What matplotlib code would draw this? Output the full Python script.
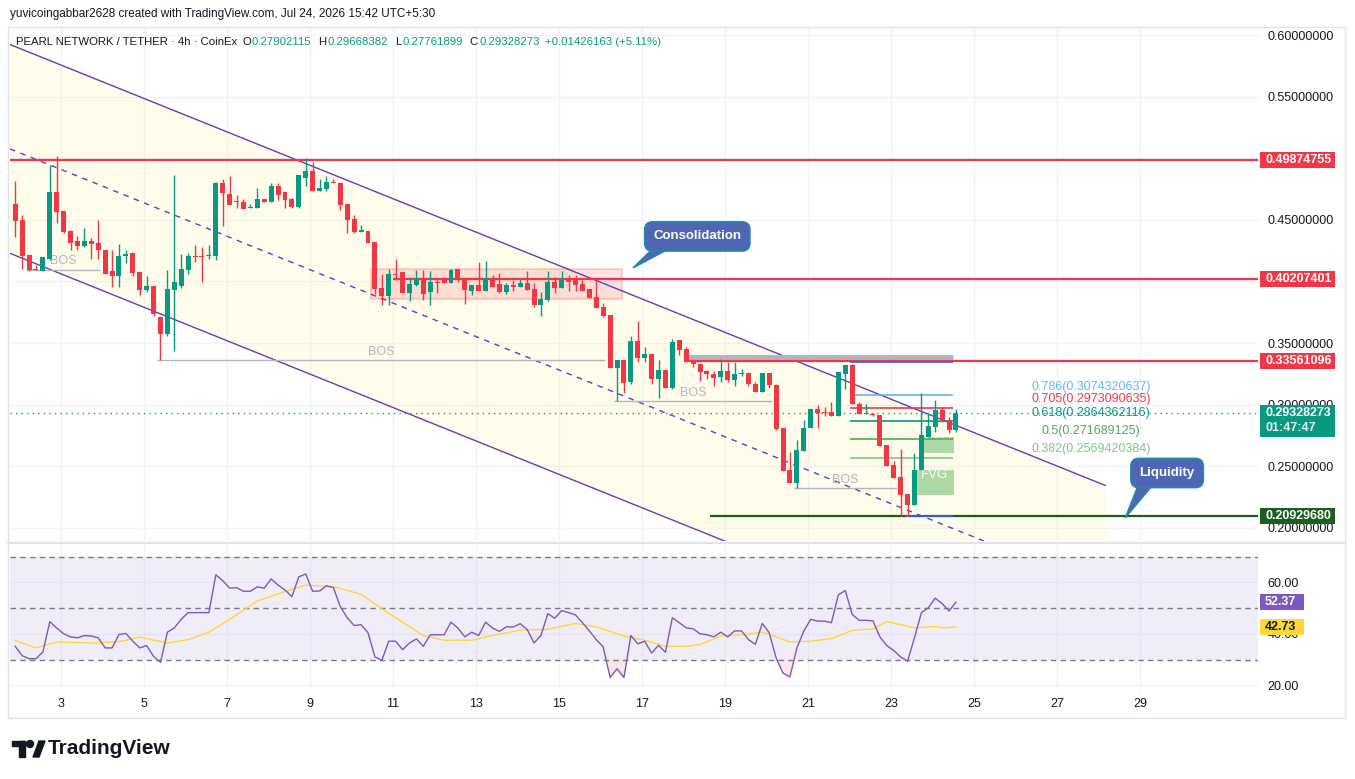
import numpy as np
import pandas as pd
import matplotlib
matplotlib.use("Agg")
import matplotlib.pyplot as plt
from matplotlib.patches import Rectangle, Polygon, Ellipse
from matplotlib import transforms

plt.rcParams['font.family'] = ['Liberation Sans', 'DejaVu Sans']

# ---- OHLC, 4h PEARL/USDT (CoinEx) ----
opens = [
    0.4627, 0.4497, 0.4212, 0.4099, 0.4085, 0.4185, 0.4725, 0.4570, 0.4408, 0.4326,
    0.4286, 0.4326, 0.4310, 0.4258, 0.4082, 0.4044, 0.4207, 0.4229, 0.4074, 0.3933,
    0.3960, 0.3711, 0.3573, 0.3933, 0.3964, 0.4096, 0.4204, 0.4204, 0.4204, 0.4204,
    0.4801, 0.4709, 0.4651, 0.4641, 0.4597, 0.4600, 0.4665, 0.4646, 0.4773, 0.4725,
    0.4673, 0.4605, 0.4841, 0.4895, 0.4736, 0.4749, 0.4806, 0.4798, 0.4627, 0.4503,
    0.4402, 0.4408, 0.4321, 0.3947, 0.3882, 0.4058, 0.4074, 0.3909, 0.3969, 0.4010,
    0.3912, 0.3993, 0.4020, 0.3988, 0.4099, 0.4031, 0.3923, 0.3969, 0.3923, 0.4024,
    0.3975, 0.3915, 0.3969, 0.3956, 0.3986, 0.3937, 0.3812, 0.3853, 0.3994, 0.3948,
    0.4010, 0.4010, 0.3978, 0.3937, 0.3872, 0.3790, 0.3726, 0.3297, 0.3360, 0.3184,
    0.3515, 0.3382, 0.3409, 0.3206, 0.3279, 0.3138, 0.3523, 0.3455, 0.3355, 0.3333,
    0.3273, 0.3252, 0.3225, 0.3273, 0.3198, 0.3246, 0.3257, 0.3165, 0.3103, 0.3257,
    0.3157, 0.2813, 0.2466, 0.2363, 0.2624, 0.2813, 0.2968, 0.2940, 0.2940, 0.2905,
    0.3252, 0.3325, 0.3008, 0.2921, 0.2921, 0.2913, 0.2669, 0.2507, 0.2412, 0.2271,
    0.2187, 0.2466, 0.2737, 0.2818, 0.2959, 0.2873, 0.27902115]
highs = [
    0.4814, 0.4538, 0.4212, 0.4137, 0.4196, 0.4944, 0.5017, 0.4570, 0.4421, 0.4367,
    0.4437, 0.4356, 0.4497, 0.4258, 0.4253, 0.4302, 0.4253, 0.4229, 0.4074, 0.4042,
    0.3960, 0.3711, 0.4090, 0.4863, 0.4226, 0.4234, 0.4294, 0.4280, 0.4294, 0.4809,
    0.4828, 0.4855, 0.4700, 0.4668, 0.4627, 0.4760, 0.4665, 0.4801, 0.4801, 0.4725,
    0.4681, 0.4863, 0.4998, 0.4966, 0.4831, 0.4858, 0.4831, 0.4798, 0.4627, 0.4538,
    0.4457, 0.4408, 0.4321, 0.4058, 0.4099, 0.4180, 0.4074, 0.4037, 0.4091, 0.4091,
    0.4083, 0.4018, 0.4037, 0.4104, 0.4099, 0.4031, 0.3969, 0.4154, 0.4165, 0.4051,
    0.4072, 0.3991, 0.4010, 0.4016, 0.4083, 0.3991, 0.3915, 0.4083, 0.4032, 0.4083,
    0.4051, 0.4056, 0.4010, 0.3937, 0.4010, 0.3826, 0.3726, 0.3360, 0.3360, 0.3555,
    0.3677, 0.3469, 0.3409, 0.3366, 0.3279, 0.3536, 0.3523, 0.3469, 0.3374, 0.3333,
    0.3279, 0.3273, 0.3374, 0.3347, 0.3347, 0.3292, 0.3257, 0.3184, 0.3260, 0.3257,
    0.3171, 0.2813, 0.2615, 0.2716, 0.2873, 0.2968, 0.2995, 0.2981, 0.3022, 0.3266,
    0.3325, 0.3333, 0.3022, 0.3008, 0.2932, 0.2913, 0.2669, 0.2542, 0.2642, 0.2271,
    0.2610, 0.3095, 0.2932, 0.3035, 0.2981, 0.2900, 0.29668382]
lows = [
    0.4361, 0.4104, 0.4085, 0.4090, 0.4085, 0.4172, 0.4475, 0.4389, 0.4253, 0.4253,
    0.4280, 0.4180, 0.4180, 0.4063, 0.3955, 0.3955, 0.4150, 0.4042, 0.3887, 0.3914,
    0.3719, 0.3359, 0.3557, 0.3432, 0.3950, 0.4063, 0.4158, 0.3996, 0.4185, 0.4172,
    0.4449, 0.4622, 0.4600, 0.4590, 0.4597, 0.4600, 0.4646, 0.4646, 0.4660, 0.4595,
    0.4595, 0.4597, 0.4773, 0.4736, 0.4736, 0.4736, 0.4801, 0.4579, 0.4394, 0.4394,
    0.4402, 0.4308, 0.3896, 0.3806, 0.3812, 0.4010, 0.3906, 0.3839, 0.3961, 0.3852,
    0.3806, 0.3906, 0.3988, 0.3988, 0.3999, 0.3814, 0.3888, 0.3923, 0.3923, 0.3951,
    0.3902, 0.3896, 0.3923, 0.3951, 0.3929, 0.3793, 0.3720, 0.3842, 0.3907, 0.3948,
    0.3923, 0.3923, 0.3923, 0.3867, 0.3785, 0.3712, 0.3297, 0.3026, 0.3097, 0.3171,
    0.3347, 0.3347, 0.3165, 0.3054, 0.3138, 0.3130, 0.3401, 0.3347, 0.3306, 0.3192,
    0.3206, 0.3152, 0.3184, 0.3184, 0.3152, 0.3230, 0.3152, 0.3103, 0.3103, 0.3138,
    0.2791, 0.2461, 0.2363, 0.2324, 0.2624, 0.2813, 0.2813, 0.2905, 0.2905, 0.2905,
    0.3130, 0.3008, 0.2921, 0.2921, 0.2905, 0.2661, 0.2499, 0.2404, 0.2093, 0.2095,
    0.2187, 0.2466, 0.2737, 0.2778, 0.2859, 0.2770, 0.27761899]
closes = [
    0.4492, 0.4204, 0.4090, 0.4096, 0.4196, 0.4725, 0.4565, 0.4400, 0.4313, 0.4286,
    0.4326, 0.4307, 0.4256, 0.4063, 0.4042, 0.4210, 0.4226, 0.4069, 0.3928, 0.3960,
    0.3738, 0.3573, 0.3936, 0.3993, 0.4099, 0.4204, 0.4199, 0.4199, 0.4212, 0.4801,
    0.4720, 0.4622, 0.4646, 0.4590, 0.4603, 0.4665, 0.4646, 0.4773, 0.4703, 0.4660,
    0.4603, 0.4863, 0.4895, 0.4736, 0.4755, 0.4806, 0.4801, 0.4622, 0.4497, 0.4400,
    0.4416, 0.4313, 0.3936, 0.3879, 0.4058, 0.4053, 0.3906, 0.3977, 0.4010, 0.3896,
    0.3993, 0.3988, 0.3988, 0.4091, 0.4026, 0.3928, 0.3969, 0.3923, 0.4024, 0.3951,
    0.3915, 0.3969, 0.3956, 0.3986, 0.3929, 0.3812, 0.3856, 0.3994, 0.3948, 0.4010,
    0.3997, 0.3972, 0.3923, 0.3867, 0.3785, 0.3720, 0.3297, 0.3360, 0.3178, 0.3515,
    0.3382, 0.3409, 0.3206, 0.3279, 0.3138, 0.3510, 0.3447, 0.3347, 0.3333, 0.3265,
    0.3246, 0.3219, 0.3273, 0.3198, 0.3252, 0.3257, 0.3165, 0.3103, 0.3260, 0.3157,
    0.2805, 0.2461, 0.2363, 0.2629, 0.2813, 0.2968, 0.2932, 0.2932, 0.2905, 0.3266,
    0.3325, 0.3008, 0.2921, 0.2927, 0.2913, 0.2661, 0.2499, 0.2404, 0.2263, 0.2182,
    0.2466, 0.2751, 0.2824, 0.2959, 0.2873, 0.2790, 0.29328273]

# RSI(14) and its moving average (read at a few bars)
rsi = [
    35.2, 31.6, 30.4, 30.4, 33.0, 44.8, 42.3, 40.1, 38.9, 38.5,
    39.4, 39.2, 38.5, 34.6, 34.6, 39.8, 40.2, 37.2, 34.6, 35.5,
    31.3, 29.0, 40.7, 42.4, 45.7, 48.3, 48.3, 48.3, 48.3, 63.0,
    60.7, 57.8, 58.0, 56.6, 56.6, 58.3, 57.8, 61.4, 59.0, 57.1,
    54.5, 62.2, 63.3, 56.6, 56.7, 58.7, 58.0, 50.6, 46.3, 43.3,
    43.6, 40.5, 31.1, 29.8, 37.2, 37.2, 33.9, 36.5, 38.1, 35.2,
    39.7, 39.7, 39.7, 44.6, 42.3, 38.9, 40.7, 39.4, 44.6, 42.3,
    41.0, 42.8, 42.7, 44.0, 41.8, 36.5, 39.4, 47.9, 46.1, 49.1,
    48.3, 47.4, 44.4, 41.2, 37.8, 35.0, 23.1, 26.5, 23.1, 39.4,
    36.2, 37.2, 32.6, 35.6, 32.9, 46.3, 44.4, 42.4, 42.0, 40.1,
    39.7, 38.9, 40.7, 38.9, 41.2, 41.2, 37.8, 36.0, 44.1, 40.5,
    30.7, 24.8, 23.3, 34.6, 41.1, 45.7, 45.0, 45.0, 44.4, 55.2,
    56.9, 47.6, 45.3, 45.3, 45.1, 38.9, 35.5, 33.6, 31.1, 29.4,
    38.5, 48.3, 50.2, 53.9, 51.8, 48.9, 52.37]
rsi_ma_bar = [0, 3, 6, 11, 15, 18, 22, 25, 28, 31, 35, 39, 42, 46, 50, 53, 56, 59, 62,
              66, 69, 73, 77, 81, 84, 88, 91, 94, 97, 99, 102, 106, 108, 112, 115, 118,
              121, 124, 126, 130, 133, 134, 136]
rsi_ma_val = [37.5, 34.6, 36.9, 36.5, 37.0, 38.8, 36.5, 37.8, 40.7, 45.7, 52.8, 56.5,
              59.0, 58.4, 55.4, 49.8, 44.6, 39.4, 37.6, 37.6, 39.4, 41.5, 41.8, 44.1,
              42.8, 39.2, 37.6, 35.2, 35.2, 35.9, 39.2, 39.9, 40.8, 36.9, 37.2, 38.2,
              41.4, 42.0, 44.8, 42.4, 42.9, 42.4, 42.73]

key_levels = [0.49874755, 0.40207401, 0.33561096]
liquidity_level = 0.20929680
last_price = 0.29328273
fib_ratios = ["1", "0.786", "0.705", "0.618", "0.5", "0.382", "0"]
fib_prices = [0.3342, 0.3074320637, 0.2973090635, 0.2864362116, 0.271689125, 0.2569420384, 0.2093]
fib_colors = ["#2962FF", "#64B5F6", "#F23645", "#089981", "#4CAF50", "#81C784", "#2962FF"]

GREEN = "#089981"
RED = "#F23645"
PURPLE = "#673AB7"
TXT = "#131722"
GRID = "#F0F3FA"

times = pd.date_range("2026-07-01 21:30", periods=len(closes), freq="4h")
x = np.asarray((times - pd.Timestamp("2026-07-01")) / pd.Timedelta(days=1)) + 1  # day of July

W, H = 1355, 779
fig = plt.figure(figsize=(W / 100, H / 100), dpi=100)
fig.patch.set_facecolor("white")


def fx(px):
    return px / W


def fy(py):
    return 1 - py / H


ax = fig.add_axes([fx(10), fy(541), fx(1258) - fx(10), fy(28) - fy(541)])
axr = fig.add_axes([fx(10), fy(690), fx(1258) - fx(10), fy(545) - fy(690)], sharex=ax)

ax.set_xlim(1.77, 31.84)
ax.set_ylim(0.1893, 0.6057)
axr.set_ylim(18.25, 74.56)

for a in (ax, axr):
    for s in a.spines.values():
        s.set_visible(False)
    a.set_axisbelow(True)
    a.grid(True, color=GRID, lw=1)
    a.yaxis.tick_right()
    a.tick_params(axis="y", length=0, pad=7, labelsize=9, labelcolor=TXT)

axr.set_xticks(range(3, 30, 2))
axr.set_xticklabels([str(d) for d in range(3, 30, 2)])
axr.tick_params(axis="x", length=0, pad=6, labelsize=9, labelcolor=TXT)
ax.tick_params(axis="x", length=0, labelbottom=False)
ax.set_yticks(np.arange(0.20, 0.601, 0.05))


# 0.50 and 0.40 sit fully under the level tags, so their labels are left blank
def price_fmt(v, pos):
    if abs(v - 0.5) < 1e-6 or abs(v - 0.4) < 1e-6:
        return ""
    return f"{v:.8f}"


ax.yaxis.set_major_formatter(plt.FuncFormatter(price_fmt))
axr.set_yticks([20, 40, 60])
axr.yaxis.set_major_formatter(plt.FormatStrFormatter("%.2f"))

# ---- parallel channel ----
ch_x = [1.77, 28.16]
ch_up = [0.5923, 0.2344]
ch_w = 0.1695
ax.add_patch(Polygon([(ch_x[0], ch_up[0]), (ch_x[1], ch_up[1]),
                      (ch_x[1], ch_up[1] - ch_w), (ch_x[0], ch_up[0] - ch_w)],
                     closed=True, facecolor="#FFEB3B", alpha=0.1, edgecolor="none", zorder=1))
ax.plot(ch_x, ch_up, color=PURPLE, lw=1, zorder=3)
ax.plot(ch_x, [v - ch_w for v in ch_up], color=PURPLE, lw=1, zorder=3)
ax.plot(ch_x, [v - ch_w / 2 for v in ch_up], color=PURPLE, lw=1, ls=(0, (4, 4)), zorder=3)

# consolidation zone
ax.add_patch(Rectangle((10.47, 0.3857), 16.52 - 10.47, 0.4101 - 0.3857,
                       facecolor=(0.95, 0.21, 0.27, 0.15), edgecolor=(0.95, 0.21, 0.27, 0.2),
                       lw=1.5, zorder=2))

# horizontal levels
ax.axhline(key_levels[0], color=RED, lw=1.6, zorder=4)
ax.hlines(key_levels[1], 11.0, 31.84, color=RED, lw=1.6, zorder=4)
ax.hlines(0.3385, 18.11, 24.49, color="#B2B5BE", lw=3.5, zorder=3)
ax.hlines(key_levels[2], 18.11, 31.84, color=RED, lw=1.6, zorder=4)
ax.hlines(liquidity_level, 18.64, 31.84, color="#1B5E20", lw=1.6, zorder=4)
ax.axhline(last_price, color=GREEN, lw=1, ls=(0, (1, 3)), zorder=4)

# BOS marks
bos = [(2.16, 3.94, 0.4093), (5.31, 16.11, 0.3362), (16.33, 20.13, 0.3029), (20.66, 23.14, 0.2323)]
for x0, x1, lvl in bos:
    ax.hlines(lvl, x0, x1, color="#B2B5BE", lw=1, zorder=3)
    ax.text((x0 + x1) / 2, lvl + 0.002, "BOS", color="#B2B5BE", fontsize=9,
            ha="center", va="bottom", zorder=3)

# FVG boxes
for x0, x1, lo, hi, ty in [(23.75, 24.52, 0.2607, 0.2737, 0.2735), (23.58, 24.52, 0.2266, 0.2469, 0.2429)]:
    ax.add_patch(Rectangle((x0, lo), x1 - x0, hi - lo, facecolor=(0.3, 0.69, 0.31, 0.45),
                           edgecolor="none", zorder=3))
    ax.text((x0 + x1) / 2, ty, "FVG", color="white", fontsize=9.5, ha="center", va="center", zorder=3)

# fib retracement
for r, p, c in zip(fib_ratios, fib_prices, fib_colors):
    x0 = 23.34 if r == "0" else 22.01
    ax.hlines(p, x0, 24.49, color=c, lw=1.2, zorder=4)
    if r not in ("0", "1"):
        ax.text(27.82, p + 0.002, f"{r}({p})", color=c, fontsize=9, ha="center", va="bottom", zorder=4)

# candles
o, h, l, c = map(np.asarray, (opens, highs, lows, closes))
col = np.where(c >= o, GREEN, RED)
ax.vlines(x, l, h, colors=col, lw=1, zorder=6)
ax.bar(x, np.maximum(np.abs(c - o), 0.0007), bottom=np.minimum(o, c), width=0.12,
       color=col, linewidth=0, zorder=7)


# callouts
def callout(cx, cy, txt, base, tip):
    ax.add_patch(Polygon([base[0], base[1], tip], closed=True, facecolor="#5066B4",
                         edgecolor="#1E8CA0", lw=1, zorder=24, clip_on=False))
    ax.text(cx, cy, txt, ha="center", va="center", color="white", fontsize=9.5, fontweight="bold",
            zorder=25, bbox=dict(boxstyle="round,pad=0.65,rounding_size=0.6", facecolor="#5066B4",
                                 edgecolor="#1E8CA0", lw=1.2))


callout(18.33, 0.4365, "Consolidation", [(17.25, 0.4265), (17.65, 0.4265)], (16.78, 0.4109))
callout(29.65, 0.2445, "Liquidity", [(28.95, 0.2345), (29.3, 0.2345)], (28.64, 0.2080))

# ---- RSI pane ----
axr.axhspan(30, 70, color="#7E57C2", alpha=0.1, lw=0, zorder=1)
for lvl in (70, 50, 30):
    axr.axhline(lvl, color="#787B86", lw=1, ls=(0, (4, 3)), zorder=2)
r = np.asarray(rsi)
axr.fill_between(x, r, 30, where=r < 30, interpolate=True, color=RED, alpha=0.12, lw=0, zorder=2)
axr.plot(x, r, color="#7E57C2", lw=1, zorder=4)
axr.plot(x[rsi_ma_bar], rsi_ma_val, color="#FDD835", lw=1, zorder=3)


# ---- price tags on the right scale ----
def tag(axis, y, txt, fc, tc, hgt, wpx=75):
    tr = transforms.blended_transform_factory(fig.transFigure, axis.transData)
    axis.add_patch(Rectangle((fx(1260), y - hgt / 2), wpx / W, hgt, transform=tr, facecolor=fc,
                             edgecolor="none", clip_on=False, zorder=30))
    axis.text(fx(1265), y, txt, transform=tr, color=tc, fontsize=9, fontweight="bold",
              ha="left", va="center", clip_on=False, zorder=31)


ph = 16 / 1232
tag(ax, key_levels[0], "0.49874755", RED, "white", ph)
tag(ax, key_levels[1], "0.40207401", RED, "white", ph)
tag(ax, key_levels[2], "0.33561096", RED, "white", ph)
tag(ax, liquidity_level, "0.20929680", "#1B5E20", "white", ph)
tr = transforms.blended_transform_factory(fig.transFigure, ax.transData)
ax.add_patch(Rectangle((fx(1260), last_price - 24 / 1232), 75 / W, 32 / 1232, transform=tr,
                       facecolor=GREEN, edgecolor="none", clip_on=False, zorder=30))
ax.text(fx(1265), last_price, "0.29328273", transform=tr, color="white", fontsize=9,
        fontweight="bold", va="center", clip_on=False, zorder=31)
ax.text(fx(1265), last_price - 15 / 1232, "01:47:47", transform=tr, color="#E3F2EF", fontsize=9,
        fontweight="bold", va="center", clip_on=False, zorder=31)
rh = 16 / 2.575
tag(axr, rsi[-1], f"{rsi[-1]:.2f}", "#7E57C2", "white", rh, 44)
tag(axr, rsi_ma_val[-1], f"{rsi_ma_val[-1]:.2f}", "#FDD835", TXT, rh, 44)

# ---- frame, header, logo ----
fig.add_artist(Rectangle((fx(8), fy(718)), fx(1345) - fx(8), fy(27) - fy(718), transform=fig.transFigure,
                         fill=False, edgecolor="#E0E3EB", lw=1))
fig.add_artist(plt.Line2D([fx(8), fx(1345)], [fy(543), fy(543)], transform=fig.transFigure,
                          color="#E0E3EB", lw=1.5))
fig.text(fx(10), fy(14), "yuvicoingabbar2628 created with TradingView.com, Jul 24, 2026 15:42 UTC+5:30",
         fontsize=8.5, color=TXT, va="center")

# legend line: each piece placed right after the previous one
header = [("PEARL NETWORK / TETHER · 4h · CoinEx", TXT, 5), ("O", TXT, 1), ("0.27902115", GREEN, 7),
          ("H", TXT, 1), ("0.29668382", GREEN, 7), ("L", TXT, 1), ("0.27761899", GREEN, 7),
          ("C", TXT, 1), ("0.29328273", GREEN, 5), ("+0.01426163 (+5.11%)", GREEN, 0)]
renderer = fig.canvas.get_renderer()
xpos = 16
for t, cc, gap in header:
    tt = fig.text(fx(xpos), fy(42), t, fontsize=8.2, color=cc, va="center")
    xpos = tt.get_window_extent(renderer).x1 + gap

fig.add_artist(Rectangle((fx(12), fy(746)), 13 / W, 5 / H, transform=fig.transFigure, color=TXT))
fig.add_artist(Rectangle((fx(19), fy(757)), 6 / W, 16 / H, transform=fig.transFigure, color=TXT))
fig.add_artist(Ellipse((fx(30), fy(744)), 7 / W, 7 / H, transform=fig.transFigure, color=TXT))
fig.add_artist(Polygon([(fx(33), fy(757)), (fx(39), fy(757)), (fx(45), fy(741)), (fx(39), fy(741))],
                       closed=True, transform=fig.transFigure, color=TXT))
fig.text(fx(48), fy(749), "TradingView", fontsize=15, fontweight="bold", color=TXT, va="center")

fig.savefig("out.png", dpi=100)
